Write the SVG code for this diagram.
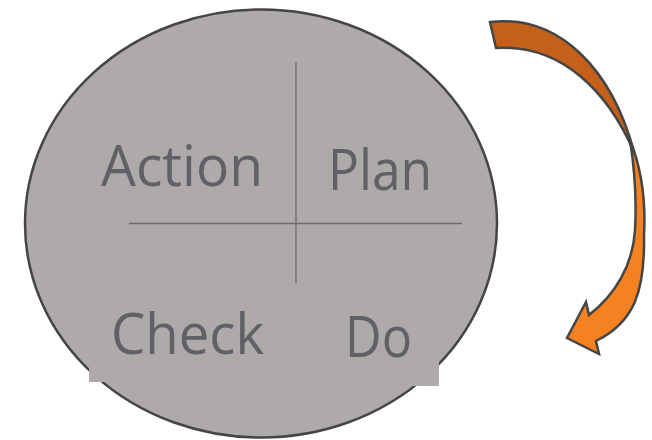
<svg xmlns="http://www.w3.org/2000/svg" width="652" height="440" viewBox="0 0 652 440">
<style>
.lbl{font-family:"Open Sans","Liberation Sans",sans-serif;font-size:57px;fill:#606166}
.div{stroke:#6b6b6f;stroke-width:1.3;fill:none}
.arr{stroke:#454545;stroke-width:2.5;stroke-linejoin:miter}
</style>
<rect width="652" height="440" fill="#ffffff"/>
<g id="circle">
<ellipse cx="261" cy="223.5" rx="236" ry="214" fill="#adaaa9" stroke="#454545" stroke-width="2.5"/>
<rect x="89" y="300" width="215" height="82" fill="#adaaa9"/>
<rect x="300" y="300" width="139" height="86" fill="#adaaa9"/>
</g>
<g id="dividers">
<line class="div" x1="296" y1="62" x2="296" y2="283"/>
<line class="div" x1="129" y1="223.5" x2="462" y2="223.5"/>
</g>
<g id="action"><text class="lbl" x="101" y="186" textLength="162" lengthAdjust="spacingAndGlyphs">Action</text></g>
<g id="plan"><text class="lbl" x="328" y="190" textLength="104" lengthAdjust="spacingAndGlyphs">Plan</text></g>
<g id="check"><text class="lbl" x="111" y="354" textLength="153" lengthAdjust="spacingAndGlyphs">Check</text></g>
<g id="do"><text class="lbl" x="345" y="357" textLength="67" lengthAdjust="spacingAndGlyphs">Do</text></g>
<g id="connectors">
<path class="arr" fill="#c5601a" d="M490,22 C560,14 612,70 634,152 C608,92 562,44 496,48 Z"/>
<path class="arr" fill="#f58220" d="M630,140 C642,170 646,200 644,235 C645,290 635,322 596,341 L599,354 L567,338 L586,302 L589,315 C615,295 633,265 635,230 C637,195 634,165 630,140 Z"/>
</g>
</svg>
